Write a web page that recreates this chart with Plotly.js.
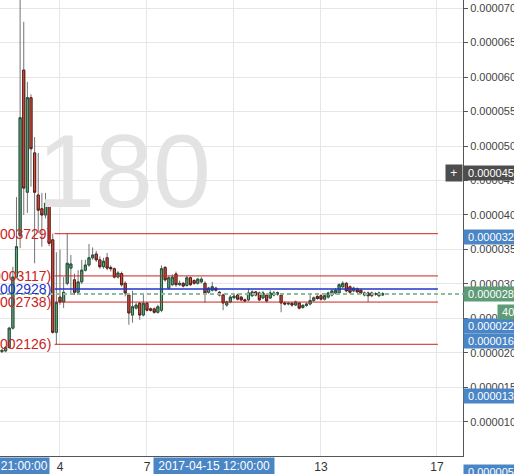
<!DOCTYPE html>
<html><head><meta charset="utf-8">
<script src="https://cdn.plot.ly/plotly-3.0.1.min.js"></script>
<style>html,body{margin:0;padding:0;background:#fff;overflow:hidden}#chart{width:514px;height:474px}</style>
</head><body><div id="chart"></div>
<script>
// 3-hour candles starting 2017-04-02 00:00, prices in units of 0.000001
const startTime = Date.UTC(2017, 3, 2, 0, 0, 0);
const stepHours = 3;
const UNIT = 1e-6;

const openP = [20.2,20.3,20.8,23.6,31.0,37.0,61.0,43.3,57.0,49.0,42.9,40.9,40.0,41.7,36.4,23.0,
  28.1,27.4,30.1,32.3,30.6,28.8,30.3,32.0,32.75,33.8,34.35,33.5,32.5,33.8,32.4,32.2,31.0,31.5,30.1,28.4,
  25.5,26.5,27.2,25.5,27.2,26.4,26.4,25.9,26.2,32.4,29.4,29.9,31.45,29.9,30.1,29.8,30.9,30.5,30.1,30.3,
  30.1,28.8,29.1,29.4,28.8,28.4,26.95,27.4,28.0,28.4,28.1,27.7,27.7,28.3,28.85,28.7,27.97,28.4,27.97,28.4,
  28.5,28.4,27.25,27.1,27.2,26.95,27.25,26.6,26.9,27.1,27.6,28.2,28.3,27.8,28.1,28.4,28.7,28.7,29.6,30.1,
  29.6,29.0,29.3,29.1,28.4,28.7,28.3,28.6,28.3,28.4];
const highP = [20.5,21.0,23.8,32.5,42.6,73.0,68.0,59.3,57.5,51.3,49.0,43.2,43.2,41.9,37.3,34.6,
  35.0,31.0,37.29,34.2,31.5,32.0,33.5,33.5,35.8,35.3,34.8,34.0,33.8,34.5,32.7,32.4,31.9,31.8,30.4,28.7,
  29.0,27.3,27.4,28.7,27.4,26.6,26.6,27.0,32.7,32.6,31.2,31.4,31.8,30.5,30.3,31.2,31.1,30.7,30.9,31.0,
  30.4,29.6,30.3,29.6,29.0,28.6,27.6,28.4,28.5,28.6,28.3,27.9,29.3,29.1,29.0,28.9,29.0,28.6,29.1,29.0,
  28.9,28.6,27.5,27.4,27.4,27.6,27.4,27.1,27.3,28.7,28.2,28.4,28.5,28.5,28.9,29.2,29.4,30.1,30.4,30.3,
  29.8,29.6,29.5,29.3,28.9,28.9,28.9,28.8,28.9,28.8];
const lowP = [20.0,20.1,20.6,23.4,30.8,35.2,40.0,40.3,44.1,33.0,37.4,35.4,39.5,35.5,22.8,21.26,
  27.0,26.5,29.8,28.6,28.4,28.5,30.0,31.8,32.5,33.5,33.2,32.2,32.2,32.0,31.8,30.8,30.8,29.6,28.2,24.1,
  24.4,26.3,24.8,25.3,26.0,26.0,25.7,25.7,25.9,30.3,29.2,29.7,29.6,29.7,29.5,29.6,29.7,29.9,29.9,30.1,
  27.3,28.6,28.9,28.9,28.2,26.2,26.7,27.2,27.8,27.6,27.5,27.4,27.5,28.1,28.2,27.5,27.8,27.3,27.8,28.2,
  28.3,25.9,26.9,26.9,26.7,26.8,26.3,26.4,26.7,26.9,27.4,27.7,27.6,27.6,27.9,28.2,28.5,28.5,29.4,28.8,
  28.6,28.8,28.7,28.5,28.2,27.4,28.1,28.3,28.1,28.3];
const closeP = [20.4,20.8,23.6,31.0,35.4,54.1,43.9,57.0,49.6,43.3,40.7,40.0,41.7,35.9,23.0,27.3,
  27.4,28.8,33.0,32.9,28.8,30.3,32.0,32.75,33.8,34.2,33.5,32.5,33.3,32.3,32.2,31.0,31.6,29.9,28.7,25.8,
  26.7,26.95,25.5,27.2,26.2,26.2,25.9,26.7,32.2,30.6,30.9,31.0,29.9,30.1,29.7,30.9,29.9,30.1,30.7,30.7,
  28.7,29.4,29.6,29.1,28.4,27.25,27.4,28.1,28.25,27.8,27.7,27.55,28.7,28.85,28.4,27.7,28.7,27.55,28.7,28.7,
  28.75,27.25,27.1,27.2,26.95,27.4,26.5,26.9,27.1,27.6,28.0,27.9,27.8,28.3,28.7,29.0,29.1,29.9,30.1,29.0,
  28.8,29.4,28.85,28.7,28.7,28.3,28.7,28.5,28.7,28.6];

// horizontal level lines drawn on the chart
const levelValues = [37.29, 31.17, 29.28, 27.38, 21.26];
const levelColors = ['#cc2222', '#cc2222', '#2233cc', '#cc2222', '#cc2222'];
const levelLabels = ['(0.00003729)', '(0.00003117)', '(0.00002928)', '(0.00002738)', '(0.00002126)'];
const levelStart = '2017-04-03 19:30';
const levelEnd = '2017-04-17 00:45';
const lastPrice = 28.55;

// x axis ticks
const tickDates = ['2017-04-04', '2017-04-07', '2017-04-10', '2017-04-13', '2017-04-17'];
const tickText = ['4', '7', '10', '13', '17'];

// price-scale tags on the right
const tagTexts = ['0.000045', '0.000032', '0.000028', '0.000022', '0.000016', '0.0000139'];
const tagValues = [46.1, 36.8, lastPrice, 23.9, 21.74, 13.8];
const tagColors = ['#4d4d4d', '#4a86c5', '#5d9c76', '#4a86c5', '#4a86c5', '#4a86c5'];

function fmt(ms) {
  const d = new Date(ms);
  const p = n => String(n).padStart(2, '0');
  return d.getUTCFullYear() + '-' + p(d.getUTCMonth() + 1) + '-' + p(d.getUTCDate()) + ' ' +
    p(d.getUTCHours()) + ':' + p(d.getUTCMinutes());
}
const times = openP.map((_, i) => fmt(startTime + i * stepHours * 3600e3));
const sc = a => a.map(v => v * UNIT);

const O = sc(openP), H = sc(highP), L = sc(lowP), C = sc(closeP);
const bodyHi = O.map((o, i) => Math.max(o, C[i]));
const bodyLo = O.map((o, i) => Math.min(o, C[i]));

const watermark = {
  type: 'scatter', mode: 'text', x: ['2017-04-06 05:00'], y: [45.0 * UNIT], text: ['180'],
  textfont: {size: 104, color: '#e3e3e3', family: 'Liberation Sans, Arial, sans-serif'},
  hoverinfo: 'skip', showlegend: false
};
const wicks = {
  type: 'candlestick', x: times, open: O, high: H, low: L, close: C,
  increasing: {line: {color: '#737375', width: 1}, fillcolor: '#737375'},
  decreasing: {line: {color: '#737375', width: 1}, fillcolor: '#737375'},
  hoverinfo: 'skip', showlegend: false
};
const bodies = {
  type: 'candlestick', x: times, open: O, high: bodyHi, low: bodyLo, close: C,
  increasing: {line: {color: '#225437', width: 1}, fillcolor: '#6ba583'},
  decreasing: {line: {color: '#5b1a13', width: 1}, fillcolor: '#d75442'},
  hoverinfo: 'skip', showlegend: false
};

const shapes = levelValues.map((v, i) => ({
  type: 'line', xref: 'x', yref: 'y', x0: levelStart, x1: levelEnd, y0: v * UNIT, y1: v * UNIT,
  line: {color: levelColors[i], width: i === 2 ? 1.5 : 1}
}));
shapes.push({
  type: 'line', xref: 'paper', yref: 'y', x0: 0, x1: 1.012, y0: lastPrice * UNIT, y1: lastPrice * UNIT,
  line: {color: '#8cbca0', width: 2, dash: '4px,3px'}
});

const font = 'Liberation Sans, Arial, sans-serif';
const annotations = levelValues.map((v, i) => ({
  xref: 'x', yref: 'y', x: levelStart, y: v * UNIT, text: levelLabels[i], showarrow: false,
  xanchor: 'right', yanchor: 'middle', xshift: -2,
  font: {family: font, size: 14, color: levelColors[i]}
}));
tagTexts.forEach((t, i) => annotations.push({
  xref: 'paper', yref: 'y', x: 1, y: tagValues[i] * UNIT, text: '\u00a0' + t, showarrow: false,
  xanchor: 'left', yanchor: 'middle', bgcolor: tagColors[i], borderpad: 1,
  font: {family: font, size: 11, color: '#ffffff'}
}));
annotations.push({
  xref: 'paper', yref: 'y', x: 1, y: 46.1 * UNIT, text: '\u00a0+\u00a0', showarrow: false,
  xanchor: 'right', yanchor: 'middle', bgcolor: '#4d4d4d', borderpad: 1,
  font: {family: font, size: 12, color: '#ffffff'}
});
annotations.push({
  xref: 'paper', yref: 'y', x: 1, y: 25.9 * UNIT, xshift: 34, text: '\u00a040:12', showarrow: false,
  xanchor: 'left', yanchor: 'middle', bgcolor: '#5d9c76', borderpad: 1,
  font: {family: font, size: 11, color: '#ffffff'}
});
annotations.push({
  xref: 'paper', yref: 'paper', x: 1, y: 0, yshift: -8, text: '\u00a00.0000050', showarrow: false,
  xanchor: 'left', yanchor: 'top', bgcolor: '#4a86c5', borderpad: 1,
  font: {family: font, size: 11, color: '#ffffff'}
});
annotations.push({
  xref: 'x', yref: 'paper', x: '2017-04-03 16:00', y: 0, yshift: -1, text: '2017-04-01 21:00:00', showarrow: false,
  xanchor: 'right', yanchor: 'top', bgcolor: '#4a86c5', borderpad: 1,
  font: {family: font, size: 12, color: '#ffffff'}
});
annotations.push({
  xref: 'x', yref: 'paper', x: '2017-04-09 07:30', y: 0, yshift: -1, text: '\u00a02017-04-15 12:00:00\u00a0', showarrow: false,
  xanchor: 'center', yanchor: 'top', bgcolor: '#4a86c5', borderpad: 1,
  font: {family: font, size: 12, color: '#ffffff'}
});

const layout = {
  width: 514, height: 474,
  margin: {l: 0, r: 51, t: 0, b: 18, pad: 0},
  paper_bgcolor: '#ffffff', plot_bgcolor: '#ffffff',
  showlegend: false, dragmode: false, boxgap: 0.18,
  font: {family: font},
  xaxis: {
    type: 'date', range: ['2017-04-01 22:21', '2017-04-17 21:32'],
    tickmode: 'array', tickvals: tickDates, ticktext: tickText,
    showgrid: true, gridcolor: '#e6e6e6', showline: true, linecolor: '#555555', linewidth: 1,
    ticks: '', tickfont: {size: 12, color: '#333333'}, zeroline: false,
    rangeslider: {visible: false}, fixedrange: true
  },
  yaxis: {
    side: 'right', range: [5.07 * UNIT, 71.16 * UNIT], tick0: 0, dtick: 5 * UNIT, tickformat: '.6f',
    showgrid: true, gridcolor: '#e6e6e6', showline: true, linecolor: '#555555', linewidth: 1,
    ticks: 'outside', ticklen: 4, tickcolor: '#555555', tickfont: {size: 11, color: '#444444'},
    zeroline: false, fixedrange: true
  },
  shapes: shapes,
  annotations: annotations
};

Plotly.newPlot('chart', [watermark, wicks, bodies], layout, {displayModeBar: false, staticPlot: true});
</script></body></html>
